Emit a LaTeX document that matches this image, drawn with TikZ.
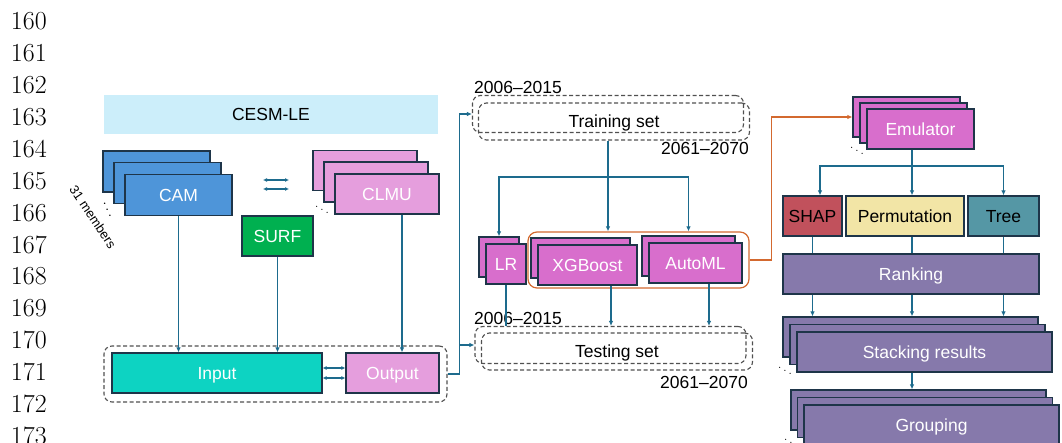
\documentclass[tikz,border=0pt]{standalone}
\usepackage{fontspec}
\usepackage{tikz}
\newfontfamily\diagfont{Liberation Sans}
\newcommand\boxfont{\diagfont\fontsize{17.5}{21}\selectfont}
\usetikzlibrary{
    arrows.meta,
    positioning
}

\definecolor{cesmblue}{HTML}{CCEEFA}
\definecolor{camblue}{HTML}{4E95D9}
\definecolor{edgenavy}{HTML}{1E3549}
\definecolor{clmupink}{HTML}{E59EDD}
\definecolor{surfgreen}{HTML}{00B050}
\definecolor{inputteal}{HTML}{0DD3C2}
\definecolor{mlorchid}{HTML}{D86ECC}
\definecolor{linkblue}{HTML}{1D6B8D}
\definecolor{emuorange}{HTML}{D3692F}
\definecolor{shapred}{HTML}{C1515C}
\definecolor{permyellow}{HTML}{F2E5A6}
\definecolor{treeteal}{HTML}{5597A5}
\definecolor{rankpurple}{HTML}{8679AB}
\definecolor{dashgray}{HTML}{505050}

\begin{document}
\begin{tikzpicture}[
x=1pt, y=-1pt,
box/.style={
draw=edgenavy,
line width=1.2pt,
minimum height=40pt,
inner sep=0pt,
text depth=0pt,
text=white,
font=\boxfont
},
dashline/.style={
draw=dashgray,
line width=1.1pt,
dash pattern=on 4pt off 2.5pt
},
setbox/.style={
dashline,
rounded corners=8pt,
minimum width=271pt,
minimum height=37pt,
inner sep=0pt,
text depth=0pt,
font=\boxfont
},
year/.style={inner sep=0pt, font=\boxfont},
link/.style={draw=linkblue, line width=1.1pt},
arr/.style={link, -{Latex[length=5pt,width=4.5pt]}},
twoway/.style={link, {Latex[length=4pt,width=4pt]}-{Latex[length=4pt,width=4pt]}},
more/.style={inner sep=0pt, font=\fontsize{15}{15}\selectfont}
]

\useasboundingbox (0,0) rectangle (1062,443);

% line numbers of the page
\foreach \n [count=\i from 0] in {160,...,173}
\node[anchor=east, inner sep=0pt, font=\fontsize{26}{26}\selectfont]
(line\n) at (47,21.3+31.9*\i) {\n};

% ensemble
\node[fill=cesmblue, minimum width=334pt, minimum height=39pt,
inner sep=0pt, font=\boxfont] (cesm) at (271,114.5) {CESM-LE};

\node[box, fill=camblue, minimum width=107pt, minimum height=41pt] (cam3) at (156.5,171.5) {};
\node[box, fill=camblue, minimum width=107pt, minimum height=41pt] (cam2) at (167.5,183) {};
\node[box, fill=camblue, minimum width=107pt, minimum height=41pt] (cam) at (178.5,195) {CAM};

\node[box, fill=clmupink, minimum width=104pt] (clmu3) at (365,170.5) {};
\node[box, fill=clmupink, minimum width=104pt] (clmu2) at (376,182) {};
\node[box, fill=clmupink, minimum width=104pt] (clmu) at (387,194) {CLMU};

\node[box, fill=surfgreen, minimum width=71pt] (surf) at (277.5,236) {SURF};

\node[rotate=-56, inner sep=0pt, font=\diagfont\fontsize{13}{13}\selectfont]
(members) at (93,217) {31 members};
\node[more, rotate=-65] (camdots) at (107,210) {$\cdots$};
\node[more] (clmudots) at (322,207) {$\ddots$};

\coordinate (swapA) at (263,180);
\coordinate (swapB) at (289,180);
\coordinate (swapC) at (263,189);
\coordinate (swapD) at (289,189);
\draw[twoway] (swapA) -- (swapB);
\draw[twoway] (swapC) -- (swapD);

% model input / output
\node[dashline, rounded corners=8pt, minimum width=343pt,
minimum height=56pt] (inputs) at (275.5,374) {};
\node[box, fill=inputteal, minimum width=210pt] (input) at (217,373) {Input};
\node[box, fill=clmupink, minimum width=93pt] (output) at (392.5,373) {Output};

\draw[arr] (cam.south) -- (cam.south |- input.north);
\draw[arr] (surf.south) -- (surf.south |- input.north);
\draw[arr] ([xshift=15pt]clmu.south) -- ([xshift=15pt]clmu.south |- output.north);
\draw[twoway] ([yshift=5pt]input.east) -- ([yshift=5pt]output.west);
\draw[twoway] ([yshift=-5pt]input.east) -- ([yshift=-5pt]output.west);

% training and testing sets
\node[setbox] (train2) at (608,114) {};
\node[setbox] (train) at (614,121.5) {Training set};
\node[year, anchor=base west] (trainfrom) at (474,93.5) {2006–2015};
\node[year, anchor=base east] (trainto) at (749,154.5) {2061–2070};

\node[setbox] (test2) at (610.5,345) {};
\node[setbox] (test) at (617,351.5) {Testing set};
\node[year, anchor=base west] (testfrom) at (474,324.5) {2006–2015};
\node[year, anchor=base east] (testto) at (748,388.5) {2061–2070};

\draw[arr] (inputs.east) -- ++(12,0) |- (train2.west);
\draw[arr] (inputs.east) -- ++(12,0) |- (test2.west);

% emulators
\node[box, fill=mlorchid, minimum width=40pt] (lr2) at (499,257) {};
\node[box, fill=mlorchid, minimum width=40pt] (lr) at (506,264) {LR};
\node[box, fill=mlorchid, minimum width=99pt] (xgb2) at (580.5,258) {};
\node[box, fill=mlorchid, minimum width=99pt] (xgb) at (587.5,265) {XGBoost};
\node[box, fill=mlorchid, minimum width=93pt] (automl2) at (688.5,256) {};
\node[box, fill=mlorchid, minimum width=93pt] (automl) at (695.5,263) {AutoML};
\node[draw=emuorange, line width=1.2pt, rounded corners=9pt,
minimum width=221pt, minimum height=56pt] (ens) at (638.5,260) {};

\coordinate (fork) at (608,177);
\draw[link] (train.south -| fork) -- (fork);
\draw[arr] (fork) -- (fork |- ens.north);
\draw[arr] (fork) -| (lr2.north);
\draw[arr] (fork) -| (automl2.north |- ens.north);

\draw[link] (lr.south) -- (lr.south |- test2.north);
\draw[arr] ([xshift=23.5pt]xgb.south) -- ([xshift=23.5pt]xgb.south |- test2.north);
\draw[arr] ([xshift=13.5pt]automl.south) -- ([xshift=13.5pt]automl.south |- test2.north);

% importance
\node[box, fill=mlorchid, minimum width=107pt] (emu3) at (906.5,117) {};
\node[box, fill=mlorchid, minimum width=107pt] (emu2) at (913.5,123) {};
\node[box, fill=mlorchid, minimum width=107pt] (emu) at (920.5,129) {Emulator};
\node[more] (emudots) at (857,148) {$\ddots$};

\draw[draw=emuorange, line width=1.2pt, -{Latex[length=5pt,width=4.5pt]}]
(ens.east) -- ++(22,0) |- (emu3.west);

\node[box, fill=shapred, text=black, minimum width=59pt] (shap) at (812.5,216) {SHAP};
\node[box, fill=permyellow, text=black, minimum width=118pt] (perm) at (905,216) {Permutation};
\node[box, fill=treeteal, text=black, minimum width=71pt] (tree) at (1003.5,216) {Tree};

\coordinate (efork) at (912,166);
\draw[link] (efork |- emu.south) -- (efork);
\draw[arr] (efork) -| ([xshift=7.5pt]shap.north);
\draw[arr] (efork) -- (efork |- perm.north);
\draw[arr] (efork) -| (tree.north);

\node[box, fill=rankpurple, minimum width=256pt] (rank) at (911,274) {Ranking};
\draw[link] (shap.south) -- (shap.south |- rank.north);
\draw[link] (efork |- perm.south) -- (efork |- rank.north);
\draw[link] (tree.south) -- (tree.south |- rank.north);

\node[box, fill=rankpurple, minimum width=255pt] (stack3) at (910.5,337) {};
\node[box, fill=rankpurple, minimum width=255pt] (stack2) at (917.5,344.5) {};
\node[box, fill=rankpurple, minimum width=255pt] (stack) at (924.5,352) {Stacking results};
\node[more] (stackdots) at (785,368) {$\ddots$};

\draw[arr] (shap.south |- rank.south) -- (shap.south |- stack3.north);
\draw[arr] (efork |- rank.south) -- (efork |- stack3.north);
\draw[arr] (tree.south |- rank.south) -- (tree.south |- stack3.north);

\node[box, fill=rankpurple, minimum width=255pt] (group3) at (918.5,410) {};
\node[box, fill=rankpurple, minimum width=255pt] (group2) at (925,417.5) {};
\node[box, fill=rankpurple, minimum width=255pt] (group) at (931.5,425) {Grouping};
\node[more] (groupdots) at (791,440) {$\ddots$};

\draw[arr] (efork |- stack.south) -- (efork |- group3.north);

\end{tikzpicture}
\end{document}
